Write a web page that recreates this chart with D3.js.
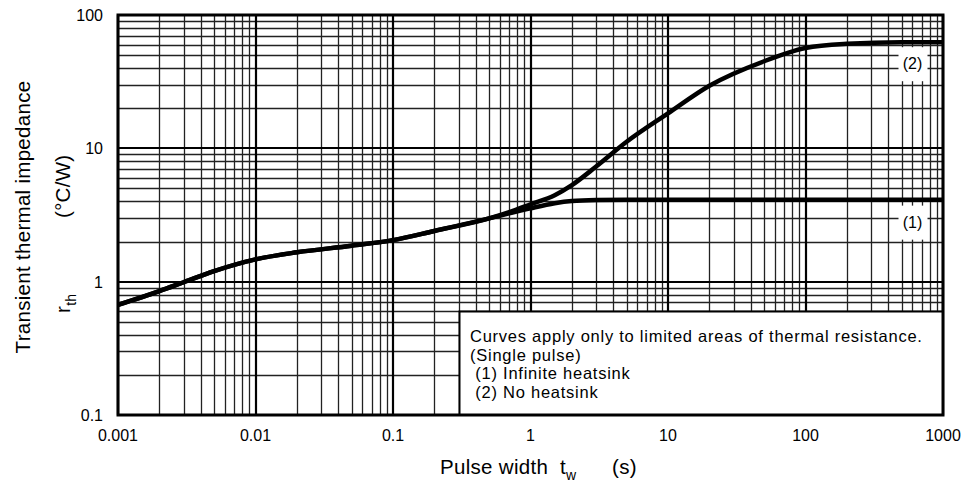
<!DOCTYPE html>
<html lang="en">
<head>
<meta charset="UTF-8">
<title>Transient thermal impedance</title>
<script src="https://d3js.org/d3.v7.min.js"></script>
<style>
    body { margin: 0; background: #fff; }
    svg { display: block; font-family: "Liberation Sans", Arial, sans-serif; }
    .tick-label { font-size: 16px; fill: #000; }
    .axis-title { font-size: 20.5px; letter-spacing: 0.3px; fill: #000; }
    .note { font-size: 16.5px; letter-spacing: 0.75px; fill: #000; }
</style>
</head>
<body>
<svg id="chart" width="966" height="490"></svg>
<script>
// pulse width (s)
const pulseWidth = [0.001, 0.002, 0.003, 0.005, 0.01, 0.02, 0.05, 0.1, 0.2, 0.5, 0.7, 1, 1.5, 2, 3, 5, 10, 20, 50, 100, 200, 500, 1000];
// (1) infinite heatsink
const infiniteHeatsink = [0.67, 0.85, 0.99, 1.2, 1.47, 1.66, 1.86, 2.05, 2.4, 2.98, 3.25, 3.55, 3.88, 4.03, 4.1, 4.12, 4.12, 4.12, 4.12, 4.12, 4.12, 4.12, 4.12];
// (2) no heatsink
const noHeatsink = [0.67, 0.85, 0.99, 1.2, 1.47, 1.66, 1.86, 2.05, 2.4, 2.98, 3.32, 3.8, 4.45, 5.3, 7.3, 11.2, 18.3, 29.5, 45, 56.5, 60.8, 62.5, 62.5];

const xTicks = [0.001, 0.01, 0.1, 1, 10, 100, 1000];
const xTickLabels = ["0.001", "0.01", "0.1", "1", "10", "100", "1000"];
const yTicks = [0.1, 1, 10, 100];
const yTickLabels = ["0.1", "1", "10", "100"];
const noteLines = ["Curves apply only to limited areas of thermal resistance.", "(Single pulse)", " (1) Infinite heatsink", " (2) No heatsink"];

const svg = d3.select("#chart");
const pLeft = 118, pRight = 943, pTop = 15, pBottom = 415;

const x = d3.scaleLog().domain([0.001, 1000]).range([pLeft, pRight]);
const y = d3.scaleLog().domain([0.1, 100]).range([pBottom, pTop]);

// grid lines
const minorX = [], minorY = [];
xTicks.slice(0, -1).forEach(d => { for (let k = 2; k <= 9; k++) minorX.push(d * k); });
yTicks.slice(0, -1).forEach(d => { for (let k = 2; k <= 9; k++) minorY.push(d * k); });

const grid = svg.append("g");
grid.selectAll(".vminor").data(minorX).enter().append("line")
    .attr("x1", d => Math.round(x(d)) + 0.5).attr("x2", d => Math.round(x(d)) + 0.5)
    .attr("y1", pTop).attr("y2", pBottom)
    .attr("stroke", "#222").attr("stroke-width", 1.3);
grid.selectAll(".hminor").data(minorY).enter().append("line")
    .attr("y1", d => Math.round(y(d)) + 0.5).attr("y2", d => Math.round(y(d)) + 0.5)
    .attr("x1", pLeft).attr("x2", pRight)
    .attr("stroke", "#222").attr("stroke-width", 1.3);
grid.selectAll(".vmajor").data(xTicks).enter().append("line")
    .attr("x1", d => Math.round(x(d))).attr("x2", d => Math.round(x(d)))
    .attr("y1", pTop).attr("y2", pBottom)
    .attr("stroke", "#000").attr("stroke-width", 2.2);
grid.selectAll(".hmajor").data(yTicks).enter().append("line")
    .attr("y1", d => Math.round(y(d))).attr("y2", d => Math.round(y(d)))
    .attr("x1", pLeft).attr("x2", pRight)
    .attr("stroke", "#000").attr("stroke-width", 2.2);

// curves
svg.append("clipPath").attr("id", "plotclip").append("rect")
    .attr("x", pLeft).attr("y", pTop).attr("width", pRight - pLeft).attr("height", pBottom - pTop);

const line = d3.line()
    .x(d => x(d[0]))
    .y(d => y(d[1]))
    .curve(d3.curveMonotoneX);

const curves = svg.append("g").attr("clip-path", "url(#plotclip)");
[infiniteHeatsink, noHeatsink].forEach(series => {
    curves.append("path")
        .datum(pulseWidth.map((t, i) => [t, series[i]]))
        .attr("d", line)
        .attr("fill", "none")
        .attr("stroke", "#000")
        .attr("stroke-width", 4.5)
        .attr("stroke-linejoin", "round");
});

// curve labels
const curveLabels = [
    { text: "(2)", t: 600, v: 43.5 },
    { text: "(1)", t: 600, v: 2.82 }
];
curveLabels.forEach(l => {
    const cx = x(l.t), cy = y(l.v);
    svg.append("rect")
        .attr("x", cx - 14).attr("y", cy - 16).attr("width", 29).attr("height", 34)
        .attr("fill", "#fff");
    svg.append("text")
        .attr("class", "tick-label")
        .attr("x", cx).attr("y", cy + 6)
        .attr("text-anchor", "middle")
        .text(l.text);
});

// note box
svg.append("rect")
    .attr("x", 459.5).attr("y", 311.5)
    .attr("width", pRight - 459.5).attr("height", pBottom - 311.5)
    .attr("fill", "#fff").attr("stroke", "#000").attr("stroke-width", 2);
svg.selectAll(".note").data(noteLines).enter().append("text")
    .attr("class", "note")
    .attr("x", 470)
    .attr("y", (d, i) => 342 + i * 18.5)
    .attr("xml:space", "preserve")
    .style("white-space", "pre")
    .text(d => d);

// plot border
svg.append("rect")
    .attr("x", pLeft).attr("y", pTop).attr("width", pRight - pLeft).attr("height", pBottom - pTop)
    .attr("fill", "none").attr("stroke", "#000").attr("stroke-width", 3);

// tick labels
svg.selectAll(".xlab").data(xTicks).enter().append("text")
    .attr("class", "tick-label")
    .attr("x", d => x(d)).attr("y", 441)
    .attr("text-anchor", "middle")
    .text((d, i) => xTickLabels[i]);
svg.selectAll(".ylab").data(yTicks).enter().append("text")
    .attr("class", "tick-label")
    .attr("x", 103).attr("y", d => y(d) + 6)
    .attr("text-anchor", "end")
    .text((d, i) => yTickLabels[i]);

// x title
const xt = svg.append("text").attr("class", "axis-title").attr("y", 474);
xt.append("tspan").attr("x", 440).text("Pulse width");
xt.append("tspan").attr("x", 560).text("t");
xt.append("tspan").attr("x", 566).attr("dy", 6).style("font-size", "14px").text("w");
xt.append("tspan").attr("x", 612).attr("dy", -6).text("(s)");

// y title
svg.append("text").attr("class", "axis-title")
    .attr("transform", "translate(30,217) rotate(-90)")
    .attr("text-anchor", "middle")
    .text("Transient thermal impedance");
const rth = svg.append("text").attr("class", "axis-title")
    .attr("transform", "translate(70,313) rotate(-90)");
rth.append("tspan").text("r");
rth.append("tspan").attr("dy", 6).style("font-size", "14px").text("th");
svg.append("text").attr("class", "axis-title")
    .attr("transform", "translate(70,218) rotate(-90)")
    .text("(°C/W)");
</script>
</body>
</html>
